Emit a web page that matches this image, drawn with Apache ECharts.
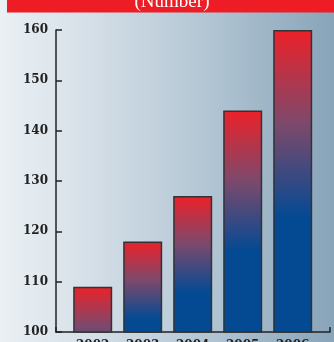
<!DOCTYPE html>
<html>
<head>
<meta charset="utf-8">
<script src="https://cdn.jsdelivr.net/npm/echarts@6/dist/echarts.min.js"></script>
<style>
html, body { margin: 0; padding: 0; }
#chart { width: 334px; height: 342px; }
</style>
</head>
<body>
<div id="chart"></div>
<script>
// data
var years = ['2002', '2003', '2004', '2005', '2006'];
var counts = [109, 118, 127, 144, 160];
var unitLabel = '(Number)';

// where each bar's red->blue fade reaches full blue (fraction of bar height)
var blueAt = [1.7, 0.85, 0.7, 0.63, 0.62];

var labelFont = 'DejaVu Serif';
var ink = '#222';

var myChart = echarts.init(document.getElementById('chart'));

var barData = [];
for (var i = 0; i < counts.length; i++) {
    barData.push({
        value: counts[i],
        itemStyle: {
            color: new echarts.graphic.LinearGradient(0, 0, 0, blueAt[i], [
                {offset: 0, color: '#ec2129'},
                {offset: 0.5, color: '#7d496c'},
                {offset: 1, color: '#044a93'}
            ])
        }
    });
}

myChart.setOption({
    animation: false,
    backgroundColor: new echarts.graphic.LinearGradient(0, 0, 1, 0, [
        {offset: 0, color: '#eaf0f4'},
        {offset: 0.2, color: '#dbe4eb'},
        {offset: 0.55, color: '#bacbd8'},
        {offset: 1, color: '#88a4b9'}
    ]),
    graphic: [
        {
            type: 'rect',
            left: 7, top: 0,
            shape: {width: 327, height: 12.5},
            style: {fill: '#ee1c25'}
        },
        {
            type: 'text',
            x: 172, y: 2,
            style: {
                text: unitLabel,
                fill: '#fff',
                font: '19px "Liberation Serif"',
                align: 'center',
                verticalAlign: 'middle'
            }
        }
    ],
    grid: [
        {left: 67.7, right: 16.3, top: 30, bottom: 10, outerBoundsMode: 'none'},   // bars
        {left: 56, right: 4, top: 30, bottom: 10, outerBoundsMode: 'none'}         // axis frame
    ],
    xAxis: [
        {
            type: 'category',
            gridIndex: 0,
            data: years,
            axisLine: {show: false},
            axisTick: {show: false},
            axisLabel: {
                margin: 8,
                color: ink,
                fontFamily: labelFont,
                fontWeight: 'bold',
                fontSize: 12
            }
        },
        {
            type: 'value',
            gridIndex: 1,
            min: 0, max: 1, interval: 1,
            axisLine: {show: true, lineStyle: {color: ink, width: 1.5}},
            axisTick: {show: true, inside: true, length: 5, lineStyle: {color: ink, width: 1.5}},
            axisLabel: {show: false},
            splitLine: {show: false}
        }
    ],
    yAxis: [
        {
            type: 'value',
            gridIndex: 0,
            min: 100, max: 160,
            show: false
        },
        {
            type: 'value',
            gridIndex: 1,
            min: 100, max: 160, interval: 10,
            axisLine: {show: true, lineStyle: {color: ink, width: 1.5}},
            axisTick: {show: true, inside: true, length: 6, lineStyle: {color: ink, width: 1.5}},
            axisLabel: {
                margin: 8,
                color: ink,
                fontFamily: labelFont,
                fontWeight: 'bold',
                fontSize: 12
            },
            splitLine: {show: false}
        }
    ],
    series: [{
        name: 'Number',
        type: 'bar',
        xAxisIndex: 0,
        yAxisIndex: 0,
        barWidth: 39,
        data: barData,
        itemStyle: {
            borderColor: '#333',
            borderWidth: 1.5
        }
    }]
});
</script>
</body>
</html>
